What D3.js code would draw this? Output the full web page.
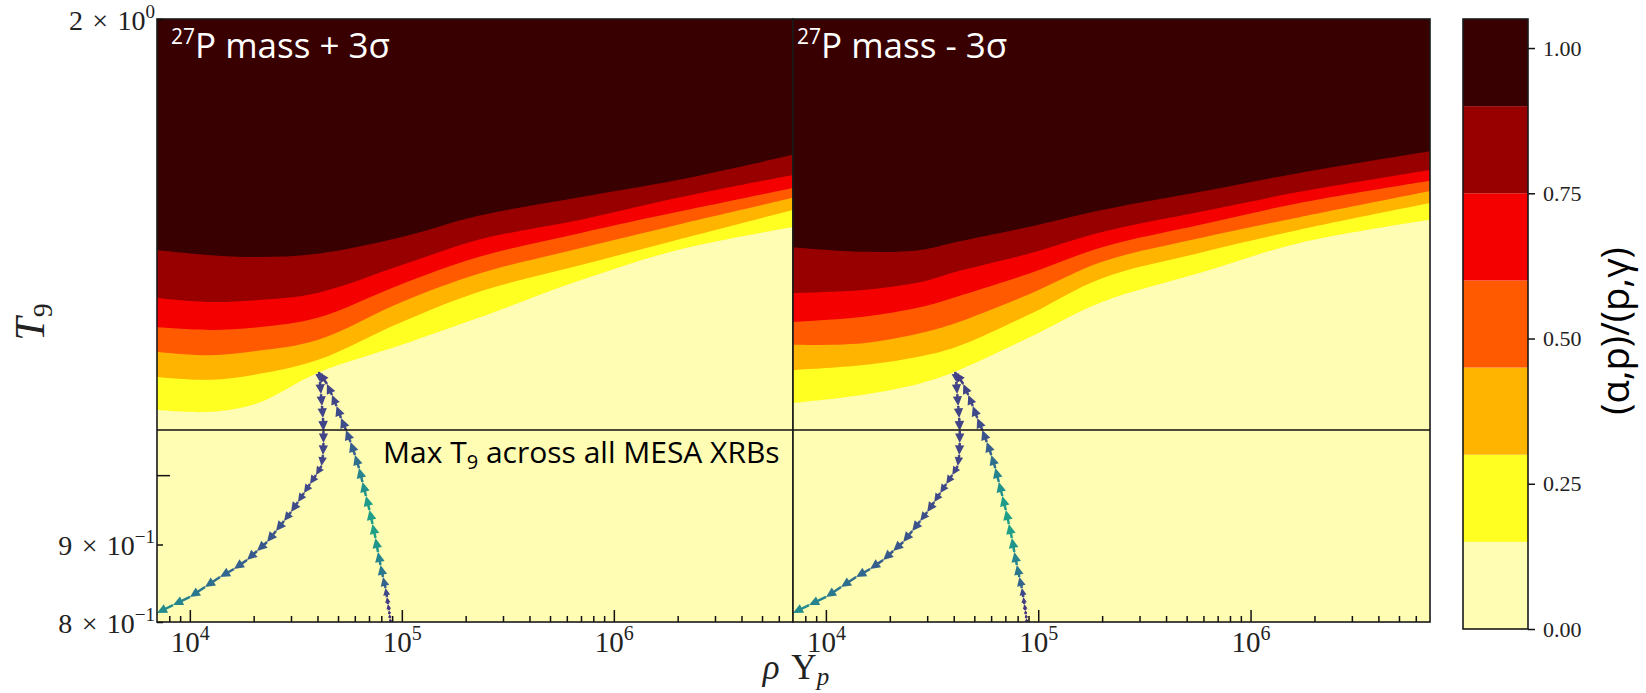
<!DOCTYPE html>
<html><head><meta charset="utf-8">
<script src="https://cdn.jsdelivr.net/npm/d3@7"></script>
<style>html,body{margin:0;padding:0;background:#fff;} svg{display:block;}</style>
</head><body>
<svg id="chart" width="1646" height="693"></svg>
<script>
// ---------------- data ----------------
const levels = [0, 0.15, 0.30, 0.45, 0.60, 0.75, 0.90, 1.05];
const bandColors = ["#fffcb4", "#ffff22", "#ffb400", "#ff5a00", "#f50000", "#980000", "#380000"];
const cbarTicks = [0, 0.25, 0.5, 0.75, 1.0];

const xMajorTicks = [1e4, 1e5, 1e6];
const xMajorExp = ["4", "5", "6"];
const xMinorTicks = [8e3, 9e3, 2e4, 3e4, 4e4, 5e4, 6e4, 7e4, 8e4, 9e4, 2e5, 3e5, 4e5, 5e5, 6e5, 7e5, 8e5, 9e5, 2e6, 3e6, 4e6, 5e6, 6e6];
const yLabelTicks = [0.8, 0.9, 2];
const yLabelMant = ["8", "9", "2"];
const yLabelExp = ["−1", "−1", "0"];
const yMajorTicks = [1.0];

const panelTitles = ["mass + 3σ", "mass - 3σ"];
const maxT9 = 1.071;

// contour boundaries (T9 of level 0.15 ... 0.90) – left panel (+3σ)
const leftRho = [7000, 12500, 21000, 40000, 100000, 230000, 700000, 2000000, 7000000];
const leftT15 = [1.104, 1.101, 1.116, 1.168, 1.219, 1.270, 1.345, 1.408, 1.458];
const leftT30 = [1.161, 1.156, 1.166, 1.191, 1.262, 1.321, 1.376, 1.430, 1.496];
const leftT45 = [1.206, 1.200, 1.208, 1.228, 1.301, 1.358, 1.412, 1.463, 1.524];
const leftT60 = [1.252, 1.247, 1.252, 1.270, 1.337, 1.393, 1.445, 1.492, 1.547];
const leftT75 = [1.309, 1.301, 1.305, 1.319, 1.376, 1.430, 1.474, 1.524, 1.578];
const leftT90 = [1.408, 1.397, 1.393, 1.400, 1.436, 1.483, 1.526, 1.566, 1.627];

// right panel (-3σ)
const rightRho = [7000, 15000, 28000, 41000, 90000, 200000, 580000, 1700000, 7000000];
const rightT15 = [1.116, 1.130, 1.150, 1.171, 1.232, 1.301, 1.360, 1.423, 1.474];
const rightT30 = [1.173, 1.182, 1.198, 1.215, 1.276, 1.349, 1.402, 1.452, 1.512];
const rightT45 = [1.219, 1.222, 1.241, 1.260, 1.316, 1.383, 1.434, 1.480, 1.540];
const rightT60 = [1.262, 1.272, 1.291, 1.311, 1.358, 1.414, 1.463, 1.512, 1.564];
const rightT75 = [1.319, 1.325, 1.341, 1.362, 1.400, 1.447, 1.492, 1.538, 1.590];
const rightT90 = [1.414, 1.404, 1.408, 1.425, 1.458, 1.496, 1.538, 1.583, 1.636];

// XRB trajectory (time ordered)
const trajRho = [88400, 87930, 87450, 86980, 86040, 85110, 83740, 81490, 79310, 77180, 75120, 72710, 70380, 67750, 65230, 62790, 60120, 57250, 54520, 51640, 49180, 46830, 44350, 40660,
  41100, 41550, 42010, 42460, 42690, 42690, 42460, 41780, 39360, 36870, 34540, 32360, 30000, 27800, 25490, 23120, 20740, 18600, 16150, 13880, 11790, 10020, 8330, 7000, 5820];
const trajT9 = [0.8000, 0.8049, 0.8098, 0.8147, 0.8222, 0.8310, 0.8424, 0.8566, 0.8724, 0.8898, 0.9089, 0.9285, 0.9484, 0.9688, 0.9896, 1.0109, 1.0311, 1.0517, 1.0710, 1.0907, 1.1108, 1.1295, 1.1486, 1.1697,
  1.1521, 1.1312, 1.1108, 1.0907, 1.0694, 1.0501, 1.0311, 1.0140, 1.0002, 0.9866, 0.9732, 0.9600, 0.9455, 0.9327, 0.9186, 0.9034, 0.8912, 0.8790, 0.8671, 0.8566, 0.8437, 0.8310, 0.8209, 0.8110, 0.8012];
const trajC = [0.15, 0.14, 0.14, 0.15, 0.16, 0.18, 0.22, 0.32, 0.40, 0.45, 0.52, 0.56, 0.56, 0.55, 0.50, 0.45, 0.36, 0.30, 0.26, 0.23, 0.22, 0.21, 0.20, 0.18,
  0.20, 0.20, 0.20, 0.20, 0.20, 0.20, 0.20, 0.20, 0.21, 0.21, 0.22, 0.22, 0.23, 0.24, 0.25, 0.26, 0.27, 0.28, 0.30, 0.33, 0.36, 0.40, 0.45, 0.48, 0.50];

// ---------------- layout ----------------
const svg = d3.select("#chart");
const plotTop = 19, plotBottom = 622;
const panels = [
  {x0: 157, x1: 793, rho: leftRho, T: [leftT15, leftT30, leftT45, leftT60, leftT75, leftT90], title: panelTitles[0], tx: 171},
  {x0: 793, x1: 1430, rho: rightRho, T: [rightT15, rightT30, rightT45, rightT60, rightT75, rightT90], title: panelTitles[1], tx: 797}
];
const y = d3.scaleLog().domain([0.8, 2]).range([plotBottom, plotTop]);
const serif = "'Liberation Serif', 'DejaVu Serif', serif";
const sans = "'Open Sans', 'Noto Sans', sans-serif";

function font(sel, fam, size) {
  return sel.style("font-family", fam).style("font-size", size + "px");
}

panels.forEach((p, pi) => {
  const x = d3.scaleLog().domain([7000, 7e6]).range([p.x0, p.x1]);
  const clipId = "clip" + pi;
  svg.append("clipPath").attr("id", clipId).append("rect")
    .attr("x", p.x0).attr("y", plotTop).attr("width", p.x1 - p.x0).attr("height", plotBottom - plotTop);
  const g = svg.append("g").attr("clip-path", `url(#${clipId})`);
  g.append("rect").attr("x", p.x0).attr("y", plotTop).attr("width", p.x1 - p.x0).attr("height", plotBottom - plotTop)
    .attr("fill", bandColors[0]);
  p.T.forEach((arr, k) => {
    const pts = p.rho.map((r, i) => [r, arr[i]]);
    const area = d3.area().x(d => x(d[0])).y0(y(2) - 2).y1(d => y(d[1])).curve(d3.curveCatmullRom.alpha(0.5));
    g.append("path").datum(pts).attr("d", area).attr("fill", bandColors[k + 1]);
  });

  // trajectory arrows
  const tg = g.append("g");
  for (let i = 1; i < trajRho.length; i++) {
    const x0 = x(trajRho[i - 1]), y0 = y(trajT9[i - 1]);
    const x1 = x(trajRho[i]), y1 = y(trajT9[i]);
    const dx = x1 - x0, dy = y1 - y0, L = Math.hypot(dx, dy);
    const ux = dx / L, uy = dy / L, nx = -uy, ny = ux;
    const hl = Math.min(10, L * 0.8), hw = hl * 0.48;
    const bx = x1 - ux * hl, by = y1 - uy * hl;
    const col = d3.interpolateViridis(trajC[i]);
    tg.append("line").attr("x1", x0).attr("y1", y0).attr("x2", bx + ux * 1).attr("y2", by + uy * 1)
      .attr("stroke", col).attr("stroke-width", 2.5);
    tg.append("path").attr("d", `M${x1},${y1}L${bx + nx * hw},${by + ny * hw}L${bx - nx * hw},${by - ny * hw}Z`)
      .attr("fill", col);
  }

  // x axis ticks (inward)
  const axMajor = svg.append("g").attr("transform", `translate(0,${plotBottom})`)
    .call(d3.axisBottom(x).tickValues(xMajorTicks).tickSize(-12).tickFormat(() => ""));
  const axMinor = svg.append("g").attr("transform", `translate(0,${plotBottom})`)
    .call(d3.axisBottom(x).tickValues(xMinorTicks).tickSize(-6).tickFormat(() => ""));
  axMinor.selectAll(".tick text").remove();
  [axMajor, axMinor].forEach(a => {
    a.select(".domain").remove();
    a.selectAll(".tick line").attr("stroke", "#111").attr("stroke-width", 1.5);
  });
  axMajor.selectAll(".tick text").each(function (d, i) {
    const t = d3.select(this).attr("y", 30).attr("dy", null).attr("fill", "#222").attr("text-anchor", "middle");
    font(t, serif, 29);
    t.append("tspan").text("10");
    t.append("tspan").attr("dy", -12).style("font-size", "20px").text(xMajorExp[i]);
  });

  // frame
  svg.append("rect").attr("x", p.x0).attr("y", plotTop).attr("width", p.x1 - p.x0).attr("height", plotBottom - plotTop)
    .attr("fill", "none").attr("stroke", "#1a1a1a").attr("stroke-width", 1.6);

  // Max T9 line
  svg.append("line").attr("x1", p.x0).attr("x2", p.x1).attr("y1", y(maxT9)).attr("y2", y(maxT9))
    .attr("stroke", "#111").attr("stroke-width", 1.6);

  // panel title
  const tt = font(svg.append("text").attr("x", p.tx).attr("y", 58).attr("fill", "#fff"), sans, 35);
  tt.append("tspan").style("font-size", "21px").attr("dy", -14).text("27");
  tt.append("tspan").attr("dy", 14).text("P " + p.title);
});

// y axis (left panel only)
const yax = svg.append("g").attr("transform", "translate(157,0)")
  .call(d3.axisLeft(y).tickValues(yLabelTicks).tickSize(-6).tickFormat(() => ""));
const yax2 = svg.append("g").attr("transform", "translate(157,0)")
  .call(d3.axisLeft(y).tickValues(yMajorTicks).tickSize(-13).tickFormat(() => ""));
yax2.selectAll(".tick text").remove();
[yax, yax2].forEach(a => {
  a.select(".domain").remove();
  a.selectAll(".tick line").attr("stroke", "#111").attr("stroke-width", 1.5);
});
yax.selectAll(".tick text").each(function (d, i) {
  const t = d3.select(this).attr("x", -2).attr("dy", 10).attr("fill", "#222").attr("text-anchor", "end");
  font(t, serif, 28);
  t.append("tspan").text(yLabelMant[i] + "\u2004×\u200410");
  t.append("tspan").attr("dy", -12).style("font-size", "19px").text(yLabelExp[i]);
});

// Max T9 annotation
const mt = font(svg.append("text").attr("x", 383).attr("y", 463).attr("fill", "#000"), sans, 30);
mt.append("tspan").text("Max T");
mt.append("tspan").style("font-size", "20px").attr("dy", 6).text("9");
mt.append("tspan").attr("dy", -6).text(" across all MESA XRBs");

// axis labels
const xl = font(svg.append("text").attr("x", 796).attr("y", 679).attr("text-anchor", "middle").attr("fill", "#222"), serif, 35);
xl.append("tspan").style("font-style", "italic").text("ρ");
xl.append("tspan").text("\u2004Y");
xl.append("tspan").style("font-style", "italic").style("font-size", "25px").attr("dy", 6).text("p");

const yl = font(svg.append("text").attr("transform", "translate(44,322) rotate(-90)").attr("text-anchor", "middle").attr("fill", "#222"), serif, 42);
yl.append("tspan").style("font-style", "italic").text("T");
yl.append("tspan").style("font-size", "28px").attr("dy", 8).text("9");

// colorbar
const cb = {x0: 1463, x1: 1528, y0: 19, y1: 629};
const cy = d3.scaleLinear().domain([levels[0], levels[levels.length - 1]]).range([cb.y1, cb.y0]);
const cg = svg.append("g");
bandColors.forEach((c, k) => {
  cg.append("rect").attr("x", cb.x0).attr("width", cb.x1 - cb.x0)
    .attr("y", cy(levels[k + 1])).attr("height", cy(levels[k]) - cy(levels[k + 1])).attr("fill", c);
});
cg.append("rect").attr("x", cb.x0).attr("y", cb.y0).attr("width", cb.x1 - cb.x0).attr("height", cb.y1 - cb.y0)
  .attr("fill", "none").attr("stroke", "#1a1a1a").attr("stroke-width", 1.6);
const cax = svg.append("g").attr("transform", `translate(${cb.x1},0)`)
  .call(d3.axisRight(cy).tickValues(cbarTicks).tickSize(7).tickPadding(8).tickFormat(d3.format(".2f")));
cax.select(".domain").remove();
cax.selectAll(".tick line").attr("stroke", "#111").attr("stroke-width", 1.5);
font(cax.selectAll(".tick text"), serif, 22).attr("fill", "#222");

font(svg.append("text").attr("transform", "translate(1629,331) rotate(-90)").attr("text-anchor", "middle")
  .attr("fill", "#000"), sans, 38).text("(α,p)/(p,γ)");
</script>
</body></html>
